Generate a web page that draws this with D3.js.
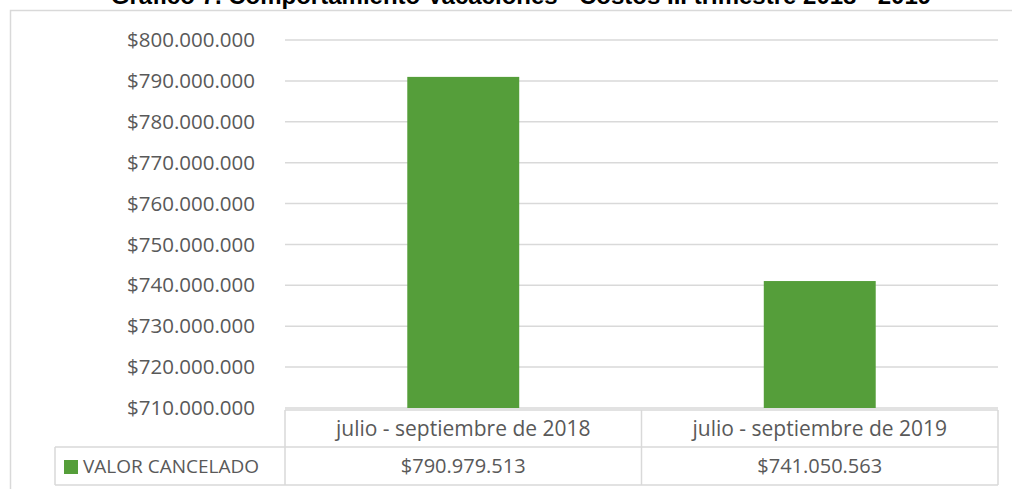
<!DOCTYPE html>
<html>
<head>
<meta charset="utf-8">
<script src="https://cdn.jsdelivr.net/npm/d3@7"></script>
<style>
    body { margin: 0; background: #fff; }
    svg { display: block; }
</style>
</head>
<body>
<svg></svg>
<script>
const title = "Gráfico 7. Comportamiento Vacaciones - Costos III trimestre 2018 - 2019";
const categories = ["julio - septiembre de 2018", "julio - septiembre de 2019"];
const values = [790979513, 741050563];
const seriesName = "VALOR CANCELADO";
const yTicks = [710000000, 720000000, 730000000, 740000000, 750000000,
    760000000, 770000000, 780000000, 790000000, 800000000];

const width = 1012, height = 489;
const green = "#559e3a", grid = "#d9d9d9", textColor = "#595959";
const font = "'Open Sans', 'Liberation Sans', sans-serif";

const svg = d3.select("svg").attr("width", width).attr("height", height);

// pesos con punto de miles
const locale = d3.formatLocale({decimal: ",", thousands: ".", grouping: [3], currency: ["$", ""]});
const money = locale.format("$,.0f");

// marco del gráfico
svg.append("rect")
    .attr("x", 10.5).attr("y", 10.5)
    .attr("width", 1020).attr("height", 500)
    .attr("fill", "none").attr("stroke", grid).attr("stroke-width", 1.5);

// el título queda recortado arriba, como en la imagen original
svg.append("text")
    .attr("x", 521).attr("y", 4)
    .attr("text-anchor", "middle")
    .attr("font-family", "'Liberation Sans', Arial, sans-serif")
    .attr("font-weight", "bold").attr("font-size", "24px")
    .attr("fill", "#000")
    .text(title);

const plot = {left: 285, right: 998, top: 40, bottom: 408};

const x = d3.scaleBand()
    .domain(categories)
    .range([plot.left, plot.right])
    .paddingInner(0.686).paddingOuter(0.343);

const y = d3.scaleLinear()
    .domain([yTicks[0], yTicks[yTicks.length - 1]])
    .range([plot.bottom, plot.top]);

// líneas de la cuadrícula
svg.append("g")
    .selectAll("line")
    .data(yTicks)
    .enter().append("line")
    .attr("x1", plot.left).attr("x2", plot.right)
    .attr("y1", d => y(d)).attr("y2", d => y(d))
    .attr("stroke", grid).attr("stroke-width", 1.5);

const yAxis = svg.append("g")
    .attr("transform", `translate(${plot.left - 30},0)`)
    .call(d3.axisLeft(y).tickValues(yTicks).tickFormat(money).tickSize(0).tickPadding(0));
yAxis.select(".domain").remove();
yAxis.selectAll("text")
    .attr("font-family", font).attr("font-size", "20.5px").attr("fill", textColor);

svg.append("g")
    .selectAll("rect")
    .data(values)
    .enter().append("rect")
    .attr("x", (d, i) => x(categories[i]))
    .attr("y", d => y(d))
    .attr("width", x.bandwidth())
    .attr("height", d => y(yTicks[0]) - y(d))
    .attr("fill", green);

// tabla de datos
const row1Top = plot.bottom + 2, row2Top = 447, row2Bottom = 485;
const legendLeft = 55;
const colEdges = [plot.left, (plot.left + plot.right) / 2, plot.right];
const table = svg.append("g")
    .attr("stroke", grid).attr("stroke-width", 1.5).attr("fill", "none");

table.append("line")
    .attr("x1", plot.left).attr("x2", plot.right)
    .attr("y1", row1Top).attr("y2", row1Top);
table.append("line")
    .attr("x1", legendLeft).attr("x2", plot.right)
    .attr("y1", row2Top).attr("y2", row2Top);
table.append("line")
    .attr("x1", legendLeft).attr("x2", plot.right)
    .attr("y1", row2Bottom).attr("y2", row2Bottom);
table.selectAll(".col")
    .data(colEdges)
    .enter().append("line")
    .attr("x1", d => d).attr("x2", d => d)
    .attr("y1", row1Top).attr("y2", row2Bottom);
table.append("line")
    .attr("x1", legendLeft).attr("x2", legendLeft)
    .attr("y1", row2Top).attr("y2", row2Bottom);

svg.append("g")
    .selectAll("text")
    .data(categories)
    .enter().append("text")
    .attr("x", d => x(d) + x.bandwidth() / 2)
    .attr("y", (row1Top + row2Top) / 2 + 7)
    .attr("text-anchor", "middle")
    .attr("font-family", font).attr("font-size", "21px").attr("fill", textColor)
    .text(d => d);

svg.append("g")
    .selectAll("text")
    .data(values)
    .enter().append("text")
    .attr("x", (d, i) => x(categories[i]) + x.bandwidth() / 2)
    .attr("y", (row2Top + row2Bottom) / 2 + 7)
    .attr("text-anchor", "middle")
    .attr("font-family", font).attr("font-size", "20px").attr("fill", textColor)
    .text(d => money(d));

svg.append("rect")
    .attr("x", 64).attr("y", 460)
    .attr("width", 14).attr("height", 14)
    .attr("fill", green);
svg.append("text")
    .attr("x", 83).attr("y", (row2Top + row2Bottom) / 2 + 7)
    .attr("font-family", font).attr("font-size", "19px").attr("fill", textColor)
    .text(seriesName);
</script>
</body>
</html>
